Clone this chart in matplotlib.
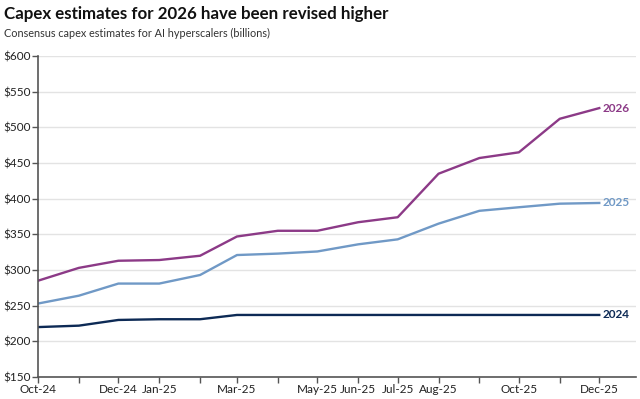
import numpy as np
import pandas as pd
import matplotlib
matplotlib.use("Agg")
import matplotlib.pyplot as plt

months = pd.date_range("2024-10-01", "2025-12-01", freq="MS")
capex_2024 = [220, 222, 230, 231, 231, 237, 237, 237, 237, 237, 237, 237, 237, 237, 237]
capex_2025 = [253, 264, 281, 281, 293, 321, 323, 326, 336, 343, 365, 383, 388, 393, 394]
capex_2026 = [285, 303, 313, 314, 320, 347, 355, 355, 367, 374, 435, 457, 465, 512, 527]
series_names = ["2024", "2025", "2026"]
shown_labels = ["Oct-24", "Dec-24", "Jan-25", "Mar-25", "May-25", "Jun-25",
                "Jul-25", "Aug-25", "Oct-25", "Dec-25"]

colors = {"2024": "#0d2a55", "2025": "#7099c6", "2026": "#8c3a87"}

plt.rcParams["font.family"] = ["Lato", "DejaVu Sans"]

fig = plt.figure(figsize=(6.4, 3.99), dpi=100)
ax = fig.add_axes([0.0594, 0.0551, 0.9346, 0.8045])

for name, vals in zip(series_names, [capex_2024, capex_2025, capex_2026]):
    ax.plot(months, vals, color=colors[name], lw=1.7, solid_joinstyle="round")
    ax.annotate(name, xy=(months[-1], vals[-1]), xytext=(2.5, 0),
                textcoords="offset points", va="center", ha="left",
                color=colors[name], fontsize=8.5, fontweight="bold")

ax.set_ylim(150, 600)
ax.set_yticks(np.arange(150, 601, 50))
ax.set_yticklabels([f"${v}" for v in range(150, 601, 50)])
ax.set_xlim(pd.Timestamp("2024-10-01"), pd.Timestamp("2025-12-29"))
ax.set_xticks(months)
ax.set_xticklabels([m.strftime("%b-%y") if m.strftime("%b-%y") in shown_labels else ""
                    for m in months])

ax.grid(axis="y", color="#e3e3e3", lw=1)
ax.set_axisbelow(True)
for s in ["top", "right"]:
    ax.spines[s].set_visible(False)
for s in ["left", "bottom"]:
    ax.spines[s].set_color("#555555")
    ax.spines[s].set_linewidth(1.2)
ax.tick_params(axis="both", colors="#555555", labelcolor="#222222",
               labelsize=8.5, length=4, width=1, pad=1)

fig.text(0.006, 0.965, "Capex estimates for 2026 have been revised higher",
         fontsize=12.2, fontweight="bold", va="center", color="#111111")
fig.text(0.006, 0.915, "Consensus capex estimates for AI hyperscalers (billions)",
         fontsize=7.8, va="center", color="#333333")

fig.savefig("out.png", dpi=100)
